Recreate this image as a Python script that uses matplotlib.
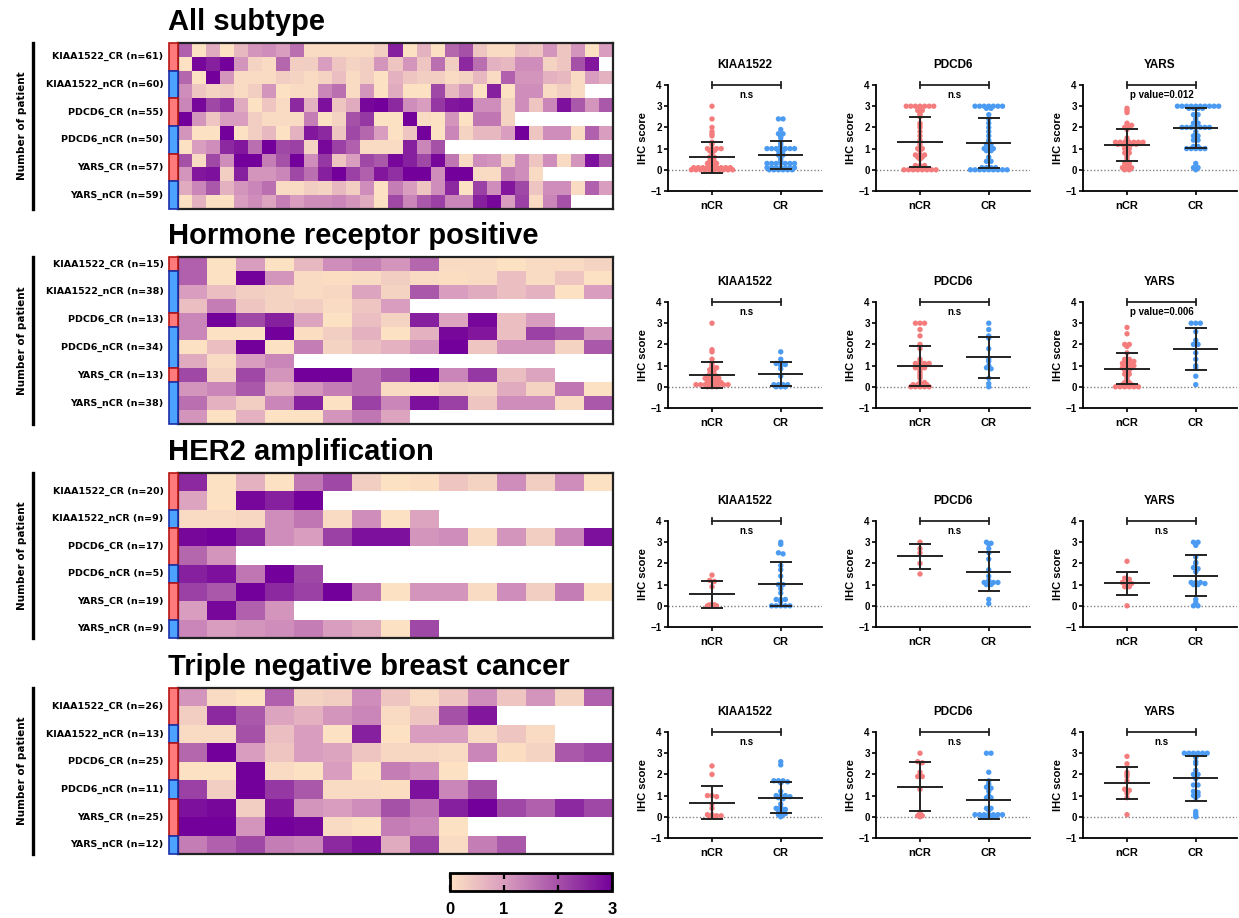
import numpy as np
import matplotlib
matplotlib.use('Agg')
import matplotlib.pyplot as plt
from matplotlib.colors import LinearSegmentedColormap
from matplotlib.patches import Rectangle
from matplotlib.lines import Line2D
import matplotlib.cm as cm
from matplotlib.colors import Normalize

plt.rcParams['font.family'] = ['Liberation Sans', 'DejaVu Sans']
plt.rcParams['font.weight'] = 'bold'

W, H = 1239, 918

# ---- heatmap data (IHC score per patient) ----
all_kiaa_cr = [1.8, 0, 0.8, 0, 0.6, 1.1, 1.2, 1.0, 1.6, 0.1, 0.1, 0.1, 0.1, 0.1, 0.3, 2.6, 0, 0.7, 0, 1.7, 2.0, 0.4, 0.1, 0.1, 0.5, 0.4, 1.1, 0.4, 1.1, 0, 1.0,
               0, 2.9, 2.6, 3.0, 1.1, 0.2, 0.1, 1.7, 0.3, 0.3, 1.0, 0.4, 0.2, 0.3, 1.1, 0.4, 1.1, 0.4, 1.6, 0.3, 2.5, 1.6, 0.7, 0.6, 1.2, 1.2, 0.2, 0.4, 2.0, 2.7]
all_kiaa_ncr = [1.7, 0, 3.0, 1.1, 0.1, 0.1, 0.1, 0.3, 0.2, 0.1, 0.2, 0.5, 0.1, 0.3, 0, 0.7, 0.4, 0.3, 0.3, 0.1, 0.2, 0.6, 0.1, 1.8, 1.1, 1.1, 0.7, 0.6, 0.1, 1.0, 0.7,
                1.2, 0.4, 0.2, 0.3, 0.1, 0.3, 1.1, 0, 0.1, 0.1, 1.3, 1.6, 0.1, 1.1, 0, 0.8, 0, 0, 2.1, 0.6, 1.1, 0, 2.6, 0, 1.2, 1.2, 0.1, 0.3, 0.1]
all_pdcd6_cr = [1.3, 2.9, 2.1, 2.4, 0.8, 0, 0.4, 0.1, 2.5, 0.7, 2.8, 0.4, 0.8, 2.9, 3.0, 2.5, 1.2, 1.0, 2.3, 2.7, 2.8, 1.2, 1.2, 0.2, 1.2, 0.4, 1.3, 2.8, 1.9, 1.1, 1.9,
                3.0, 1.1, 0.4, 1.0, 1.0, 0.3, 0.1, 0.1, 0.1, 1.4, 0, 0.2, 2.0, 2.3, 0, 0, 3.0, 0.1, 0, 1.1, 0, 1.5, 1.5, 0.2]
all_pdcd6_ncr = [1.1, 0, 0, 3.0, 0, 0.3, 0.6, 0, 0.7, 2.7, 2.5, 0.4, 2.1, 1.7, 1.0, 0, 0.4, 3.0, 0, 1.3, 0.2, 0.6, 0.6, 1.0, 3.0, 0.4, 1.2, 1.2, 0.1, 1.8, 1.0,
                 0, 1.0, 1.2, 2.5, 2.7, 1.6, 3.0, 2.1, 2.2, 0.2, 2.9, 2.2, 1.8, 0.1, 0.1, 0.1, 2.6, 1.3, 2.0]
all_yars_cr = [2.0, 0.1, 2.1, 1.2, 3.0, 3.0, 1.4, 2.0, 3.0, 1.2, 2.3, 0.4, 1.0, 2.1, 1.9, 2.9, 2.6, 2.1, 2.9, 1.5, 0.1, 1.2, 1.1, 0.2, 1.2, 0.4, 1.2, 0.1, 1.1, 2.8, 1.9,
               1.1, 2.7, 2.8, 0.3, 2.6, 1.1, 1.1, 1.3, 2.1, 1.6, 2.6, 3.0, 2.2, 1.8, 2.7, 2.4, 3.0, 3.0, 1.2, 3.0, 3.0, 0.1, 0.1, 1.4, 1.2, 0.1]
all_yars_ncr = [0.8, 1.3, 1.9, 0.7, 1.1, 1.3, 1.6, 0.1, 0.1, 0.3, 0.2, 0.6, 0.3, 1.2, 0, 1.4, 1.0, 0.4, 1.2, 2.5, 0, 2.2, 1.2, 2.7, 2.1, 0.4, 1.2, 1.2, 0.1, 1.8, 1.0,
                0, 0.7, 0, 0, 1.0, 1.2, 0.9, 1.4, 1.0, 1.2, 1.2, 1.3, 1.1, 0.8, 0, 2.1, 1.3, 1.9, 2.2, 1.3, 1.3, 2.6, 2.9, 1.0, 2.2, 0.1, 1.3, 2.0]

hr_kiaa_cr = [1.8, 0, 1.0, 0, 0.6, 1.2, 1.4, 1.1, 1.7, 0.1, 0.1, 0, 0.1, 0.1, 0.2]
hr_kiaa_ncr = [1.8, 0, 3.0, 1.1, 0.1, 0.05, 0.1, 0.3, 0.1, 0.05, 0.1, 0.5, 0.1, 0.4, 0,
               1.0, 0.5, 0.3, 0.2, 0.1, 0.15, 0.9, 0.2, 1.9, 1.0, 0.8, 0.5, 0.7, 0, 1.0,
               0.5, 1.4, 0.4, 0.2, 0.3, 0.1, 0.4, 1.0]
hr_pdcd6_cr = [1.3, 3.0, 2.1, 2.6, 0.9, 0, 0.5, 0.2, 2.6, 0.9, 2.9, 0.5, 1.0]
hr_pdcd6_ncr = [1.3, 0, 0, 3.0, 0.05, 0.3, 0.7, 0, 0.7, 2.9, 2.7, 0.5, 2.2, 1.9, 1.1,
                0, 0.5, 3.0, 0, 1.4, 0.2, 0.5, 0.7, 1.1, 3.0, 0.4, 1.1, 1.1, 0.2, 1.9,
                0.8, 0.1, 1.0, 1.3]
hr_yars_cr = [2.1, 0.2, 2.1, 1.1, 3.0, 3.0, 1.6, 2.0, 3.0, 1.3, 2.3, 0.5, 0.9]
hr_yars_ncr = [1.1, 1.3, 1.9, 0.7, 1.1, 1.4, 1.6, 0.1, 0.1, 0.3, 0.2, 0.8, 0.2, 1.5, 0,
               1.6, 0.7, 0.3, 1.3, 2.6, 0, 2.2, 1.3, 2.8, 2.2, 0.4, 1.2, 1.2, 0.1, 1.9,
               1.1, 0, 0.7, 0, 0, 1.1, 1.5, 0.9]

her_kiaa_cr = [2.5, 0, 0.7, 0, 1.5, 2.1, 0.3, 0, 0.05, 0.4, 0.2, 1.2, 0.3, 1.2, 0,
               0.9, 0, 2.9, 2.6, 3.0]
her_kiaa_ncr = [0.1, 0.1, 0.15, 1.2, 1.5, 0.1, 1.2, 0, 0.9]
her_pdcd6_cr = [2.9, 3.0, 2.5, 1.2, 1.0, 2.2, 2.8, 2.8, 1.1, 1.2, 0.1, 1.1, 0.3, 1.3, 2.8,
                1.7, 1.1]
her_pdcd6_ncr = [2.6, 2.8, 1.5, 3.0, 2.1]
her_yars_cr = [2.2, 1.9, 3.0, 2.5, 2.2, 3.0, 1.5, 0, 1.1, 1.1, 0.1, 1.2, 0.3, 1.4, 0,
               1.0, 2.9, 1.8, 1.1]
her_yars_ncr = [1.3, 1.0, 1.1, 1.2, 1.4, 1.0, 0.8, 0, 2.1]

tn_kiaa_cr = [1.1, 0.1, 0, 1.8, 0.2, 0.3, 1.2, 0.4, 0.1, 0.4, 1.2, 0.4, 1.1, 0.2, 1.8,
              0.3, 2.5, 1.9, 0.9, 0.7, 1.1, 1.3, 0.1, 0.4, 2.0, 2.7]
tn_kiaa_ncr = [0.1, 0.1, 2.0, 0.5, 1.0, 0, 2.6, 0, 1.0, 1.0, 0.1, 0.4, 0.1]
tn_pdcd6_cr = [1.7, 3.0, 1.0, 0.4, 1.0, 0.9, 0.4, 0.15, 0.15, 0.1, 1.3, 0.05, 0.2, 1.9, 2.1,
               0, 0, 3.0, 0.1, 0, 1.0, 0, 1.4, 1.2, 0]
tn_pdcd6_ncr = [2.2, 0.3, 3.0, 2.3, 1.9, 0.1, 0.1, 0.05, 2.8, 1.3, 2.0]
tn_yars_cr = [2.8, 2.9, 0.3, 2.7, 1.1, 1.0, 1.2, 2.0, 1.5, 2.6, 3.0, 2.1, 1.8, 2.5, 2.1,
              3.0, 3.0, 1.1, 3.0, 2.9, 0.1, 0, 1.4, 1.3, 0]
tn_yars_ncr = [1.4, 1.8, 2.1, 1.4, 1.3, 2.5, 2.8, 0.8, 2.2, 0.1, 1.4, 1.9]

# ---- dot plot data (IHC score, nCR / CR) ----
sc_all_kiaa_ncr = [3.0, 2.4, 2.0, 1.8, 1.7, 1.6, 1.3, 1.2, 1.0, 1.0, 1.0, 1.0, 0.9, 0.9, 0.8, 0.6, 0.6, 0.5, 0.4, 0.4, 0.3, 0.3, 0.3,
                   0.2, 0.2, 0.1, 0.1, 0.1, 0.1, 0.1, 0.1, 0.1, 0.1, 0.1, 0.0, 0.0, 0.0, 0.0, 0.0, 0.0, 0.0, 0.0, 0.0, 0.0]
sc_all_kiaa_cr = [2.4, 2.4, 1.9, 1.7, 1.7, 1.6, 1.5, 1.3, 1.2, 1.1, 1.0, 1.0, 1.0, 1.0, 1.0, 1.0, 1.0, 0.9, 0.9, 0.7, 0.7, 0.6, 0.5,
                  0.4, 0.3, 0.3, 0.3, 0.3, 0.3, 0.3, 0.3, 0.1, 0.1, 0.1, 0.1, 0.1, 0.1, 0.1, 0.0, 0.0, 0.0, 0.0, 0.0, 0.0]
sc_all_pdcd6_ncr = [3.0, 3.0, 3.0, 3.0, 3.0, 3.0, 3.0, 2.8, 2.8, 2.7, 2.6, 2.5, 2.2, 2.1, 2.0, 1.8, 1.6, 1.4, 1.2, 1.0, 1.0, 0.9,
                    0.7, 0.7, 0.7, 0.6, 0.6, 0.5, 0.2, 0.2, 0.2, 0.1, 0.1, 0.0, 0.0, 0.0, 0.0, 0.0, 0.0, 0.0, 0.0]
sc_all_pdcd6_cr = [3.0, 3.0, 3.0, 3.0, 3.0, 3.0, 3.0, 2.9, 2.9, 2.6, 2.4, 2.2, 2.0, 1.8, 1.6, 1.4, 1.3, 1.2, 1.2, 1.0, 1.0, 1.0,
                   0.9, 0.9, 0.6, 0.4, 0.4, 0.1, 0.1, 0.1, 0.1, 0.0, 0.0, 0.0, 0.0, 0.0, 0.0, 0.0, 0.0, 0.0]
sc_all_yars_ncr = [2.9, 2.8, 2.7, 2.2, 2.1, 2.1, 2.0, 2.0, 1.9, 1.5, 1.4, 1.3, 1.3, 1.3, 1.3, 1.3, 1.3, 1.3, 1.2, 1.2, 1.2, 1.2, 1.2,
                   1.1, 1.0, 1.0, 0.9, 0.8, 0.8, 0.7, 0.6, 0.5, 0.3, 0.3, 0.2, 0.1, 0.1, 0.1, 0.0, 0.0]
sc_all_yars_cr = [3.0, 3.0, 3.0, 3.0, 3.0, 3.0, 3.0, 3.0, 3.0, 3.0, 2.9, 2.9, 2.9, 2.9, 2.6, 2.6, 2.4, 2.2, 2.2,
                  2.0, 2.0, 2.0, 2.0, 2.0, 2.0, 2.0, 1.8, 1.6, 1.6, 1.4, 1.4, 1.1, 1.1, 1.0, 1.0, 1.0, 1.0, 1.0, 0.3, 0.1, 0.1, 0.0]

sc_hr_kiaa_ncr = [3.0, 1.75, 1.65, 1.3, 1.1, 1.0, 0.9, 0.9, 0.8, 0.8, 0.7, 0.6, 0.6, 0.5, 0.5, 0.5, 0.4, 0.4, 0.4, 0.4,
                  0.3, 0.3, 0.3, 0.2, 0.2, 0.2, 0.2, 0.1, 0.1, 0.1, 0.1, 0.1, 0.1, 0.1, 0.1, 0.0, 0.0, 0.0]
sc_hr_kiaa_cr = [1.65, 1.3, 1.1, 1.1, 1.05, 1.0, 0.85, 0.5, 0.1, 0.1, 0.1, 0.1, 0.0, 0.0, 0.0]
sc_hr_pdcd6_ncr = [3.0, 3.0, 3.0, 2.7, 2.4, 2.0, 1.8, 1.3, 1.2, 1.1, 1.1, 1.1, 1.1, 1.0, 1.0, 0.9, 0.9, 0.9, 0.8,
                   0.7, 0.6, 0.5, 0.4, 0.2, 0.2, 0.1, 0.1, 0.1, 0.1, 0.0, 0.0, 0.0, 0.0, 0.0]
sc_hr_pdcd6_cr = [3.0, 2.7, 2.4, 2.3, 1.8, 1.3, 1.2, 1.0, 0.9, 0.85, 0.4, 0.15, 0.0]
sc_hr_yars_ncr = [2.8, 2.5, 2.0, 2.0, 1.9, 1.6, 1.3, 1.3, 1.2, 1.2, 1.2, 1.1, 1.1, 1.1, 1.0, 1.0, 1.0, 0.9, 0.9,
                  0.9, 0.8, 0.8, 0.6, 0.6, 0.5, 0.4, 0.3, 0.2, 0.2, 0.1, 0.1, 0.1, 0.0, 0.0, 0.0, 0.0, 0.0, 0.0]
sc_hr_yars_cr = [3.0, 3.0, 3.0, 2.6, 2.2, 2.0, 2.0, 1.6, 1.3, 1.0, 0.9, 0.5, 0.1]

sc_her_kiaa_ncr = [1.45, 1.2, 1.15, 0.9, 0.05, 0.05, 0.0, 0.0, 0.0]
sc_her_kiaa_cr = [3.0, 2.9, 2.5, 2.45, 1.9, 1.7, 1.4, 1.0, 1.0, 0.8, 0.6, 0.3, 0.3, 0.3, 0.2, 0.0, 0.0, 0.0, 0.0, 0.0]
sc_her_pdcd6_ncr = [3.0, 2.7, 2.5, 2.0, 1.5]
sc_her_pdcd6_cr = [3.0, 2.95, 2.9, 2.7, 2.5, 2.2, 1.7, 1.4, 1.2, 1.1, 1.1, 1.1, 1.1, 1.0, 1.0, 0.3, 0.1]
sc_her_yars_ncr = [2.1, 1.3, 1.25, 1.1, 1.05, 1.05, 0.9, 0.9, 0.0]
sc_her_yars_cr = [3.0, 3.0, 2.85, 2.3, 2.05, 2.0, 1.8, 1.75, 1.6, 1.1, 1.1, 1.1, 1.05, 1.0, 1.0, 0.3, 0.15, 0.0, 0.0]

sc_tn_kiaa_ncr = [2.4, 2.0, 1.0, 1.0, 0.95, 0.6, 0.4, 0.1, 0.1, 0.05, 0.05, 0.0, 0.0]
sc_tn_kiaa_cr = [2.6, 2.45, 1.7, 1.7, 1.7, 1.65, 1.6, 1.2, 1.0, 1.0, 1.0, 0.95, 0.9, 0.85, 0.6, 0.45, 0.4, 0.4, 0.35,
                 0.3, 0.3, 0.2, 0.15, 0.1, 0.1, 0.0]
sc_tn_pdcd6_ncr = [3.0, 2.6, 2.55, 2.1, 1.9, 1.9, 1.3, 0.2, 0.05, 0.05, 0.0]
sc_tn_pdcd6_cr = [3.0, 3.0, 2.1, 1.7, 1.55, 1.4, 1.35, 1.2, 1.0, 0.9, 0.9, 0.4, 0.4, 0.3, 0.1, 0.1, 0.1, 0.1, 0.1,
                  0.1, 0.1, 0.0, 0.0, 0.0, 0.0]
sc_tn_yars_ncr = [2.85, 2.5, 2.1, 2.0, 1.9, 1.7, 1.3, 1.25, 1.2, 1.1, 0.9, 0.1]
sc_tn_yars_cr = [3.0, 3.0, 3.0, 3.0, 3.0, 3.0, 2.85, 2.8, 2.6, 2.5, 2.2, 2.0, 2.0, 1.8, 1.5, 1.5, 1.2, 1.15, 1.0, 1.0,
                 0.9, 0.25, 0.15, 0.05, 0.0]

genes = ['KIAA1522', 'PDCD6', 'YARS']
groups_x = ['nCR', 'CR']
sig_all = ['n.s', 'n.s', 'p value=0.012']
sig_hr = ['n.s', 'n.s', 'p value=0.006']
sig_her = ['n.s', 'n.s', 'n.s']
sig_tn = ['n.s', 'n.s', 'n.s']

titles = ['All subtype', 'Hormone receptor positive', 'HER2 amplification', 'Triple negative breast cancer']
labels_all = ['KIAA1522_CR (n=61)', 'KIAA1522_nCR (n=60)', 'PDCD6_CR (n=55)', 'PDCD6_nCR (n=50)', 'YARS_CR (n=57)', 'YARS_nCR (n=59)']
labels_hr = ['KIAA1522_CR (n=15)', 'KIAA1522_nCR (n=38)', 'PDCD6_CR (n=13)', 'PDCD6_nCR (n=34)', 'YARS_CR (n=13)', 'YARS_nCR (n=38)']
labels_her = ['KIAA1522_CR (n=20)', 'KIAA1522_nCR (n=9)', 'PDCD6_CR (n=17)', 'PDCD6_nCR (n=5)', 'YARS_CR (n=19)', 'YARS_nCR (n=9)']
labels_tn = ['KIAA1522_CR (n=26)', 'KIAA1522_nCR (n=13)', 'PDCD6_CR (n=25)', 'PDCD6_nCR (n=11)', 'YARS_CR (n=25)', 'YARS_nCR (n=12)']

cmap = LinearSegmentedColormap.from_list('ihc', ['#FDE1C3', '#D99DBF', '#A651A8', '#73009A'])
cmap.set_bad('white')
red_dot, blue_dot = '#F47C7C', '#4C9BF2'


def px_axes(fig, x0, y0, x1, y1):
    return fig.add_axes([x0 / W, 1 - y1 / H, (x1 - x0) / W, (y1 - y0) / H])


def draw_heatmap(fig, top, bottom, title, labels, values, ncols):
    rows, blocks = [], []
    for lab, v in zip(labels, values):
        nr = int(np.ceil(len(v) / ncols))
        blocks.append((len(rows), nr, lab))
        for r in range(nr):
            seg = v[r * ncols:(r + 1) * ncols]
            rows.append(list(seg) + [np.nan] * (ncols - len(seg)))
    grid = np.array(rows, dtype=float)
    ax = px_axes(fig, 178, top, 613, bottom)
    ax.imshow(np.ma.masked_invalid(grid), cmap=cmap, vmin=0, vmax=3, aspect='auto', interpolation='nearest')
    ax.set_xticks([])
    ax.set_yticks([])
    for s in ax.spines.values():
        s.set_linewidth(1.6)
        s.set_color('#222222')
    side = px_axes(fig, 169, top, 178, bottom)
    side.set_xlim(0, 1)
    side.set_ylim(len(rows) - 0.5, -0.5)
    side.axis('off')
    for r0, nr, lab in blocks:
        is_cr = '_CR' in lab
        side.add_patch(Rectangle((0.05, r0 - 0.5), 0.9, nr, facecolor='#FF7B7B' if is_cr else '#4EA2FF',
                                 edgecolor='#B81414' if is_cr else '#1A2EA8', lw=1.2, clip_on=False))
        side.text(-0.6, r0 - 0.5 + nr / 2, lab, ha='right', va='center', fontsize=6.8,
                  family='DejaVu Sans', fontweight='bold')
    fig.add_artist(Line2D([33 / W, 33 / W], [1 - top / H, 1 - bottom / H], color='black', lw=2.4))
    fig.text(22 / W, 1 - (top + bottom) / 2 / H, 'Number of patient', rotation=90, ha='center', va='center',
             fontsize=7.5, family='DejaVu Sans', fontweight='bold')
    fig.text(168 / W, 1 - (top - 21) / H, title, ha='left', va='center', fontsize=21, fontweight='bold')


def row_offsets(vals, step=0.1, d=4.6, xpx=69.0):
    # GraphPad-like layout: points of the same level sit side by side in one centred row,
    # neighbouring rows are staggered by half a dot so they interleave
    v = np.asarray(vals, dtype=float)
    bins = np.floor(v / step + 0.5 + 1e-9).astype(int)
    counts = {b: int(np.sum(bins == b)) for b in np.unique(bins)}
    shifted = {}
    off = np.zeros(len(v))
    for b in sorted(counts):
        k = counts[b]
        idx = np.where(bins == b)[0]
        shift = 0.0
        prev = counts.get(b - 1, 0)
        if k >= 2 and prev >= 2 and (k % 2) == (prev % 2) and not shifted.get(b - 1, False):
            shift = d / 2
            shifted[b] = True
        off[idx] = (np.arange(k) - (k - 1) / 2) * d + shift
    return off / xpx


def draw_dots(fig, x0, top, gene, ncr, cr, sig):
    ax = px_axes(fig, x0, top, x0 + 154, top + 106)
    ax.set_xlim(-0.64, 1.6)
    ax.set_ylim(-1, 4)
    ax.axhline(0, color='#808080', lw=1, ls=(0, (1, 1.5)), zorder=1)
    for g, (vals, col) in enumerate([(ncr, red_dot), (cr, blue_dot)]):
        v = np.asarray(vals)
        ax.scatter(g + row_offsets(v), v, s=15, color=col, edgecolors='none', zorder=2, clip_on=False)
        m, sd = v.mean(), v.std(ddof=1)
        kw = dict(color='#222222', lw=1.4, zorder=3, solid_capstyle='butt')
        ax.plot([g - 0.33, g + 0.33], [m, m], **kw)
        ax.plot([g, g], [m - sd, m + sd], **kw)
        ax.plot([g - 0.16, g + 0.16], [m + sd, m + sd], **kw)
        ax.plot([g - 0.16, g + 0.16], [m - sd, m - sd], **kw)
    bk = dict(color='#222222', lw=1.3, clip_on=False)
    ax.plot([0, 1], [4, 4], **bk)
    ax.plot([0, 0], [3.85, 4.15], **bk)
    ax.plot([1, 1], [3.85, 4.15], **bk)
    ax.text(0.5, 3.55, sig, ha='center', va='center', fontsize=7, fontweight='bold')
    ax.text(0.5, 1.19, gene, transform=ax.transAxes, ha='center', va='center', fontsize=8.5, fontweight='bold')
    for s in ['top', 'right']:
        ax.spines[s].set_visible(False)
    for s in ['left', 'bottom']:
        ax.spines[s].set_linewidth(1.3)
    ax.set_yticks([-1, 0, 1, 2, 3, 4])
    ax.set_xticks([0, 1])
    ax.set_xticklabels(groups_x)
    ax.tick_params(axis='y', length=3, width=1.2, labelsize=7, pad=1.5)
    ax.tick_params(axis='x', length=3, width=1.2, labelsize=8, pad=4)
    for t in ax.get_xticklabels() + ax.get_yticklabels():
        t.set_fontweight('bold')
    ax.set_ylabel('IHC score', fontsize=8, fontweight='bold', labelpad=2)


fig = plt.figure(figsize=(W / 100, H / 100), dpi=100)

heat_pos = [(43, 209, 31), (257, 424, 15), (473, 638, 15), (688, 854, 15)]
heat_labels = [labels_all, labels_hr, labels_her, labels_tn]
heat_vals = [
    [all_kiaa_cr, all_kiaa_ncr, all_pdcd6_cr, all_pdcd6_ncr, all_yars_cr, all_yars_ncr],
    [hr_kiaa_cr, hr_kiaa_ncr, hr_pdcd6_cr, hr_pdcd6_ncr, hr_yars_cr, hr_yars_ncr],
    [her_kiaa_cr, her_kiaa_ncr, her_pdcd6_cr, her_pdcd6_ncr, her_yars_cr, her_yars_ncr],
    [tn_kiaa_cr, tn_kiaa_ncr, tn_pdcd6_cr, tn_pdcd6_ncr, tn_yars_cr, tn_yars_ncr],
]
for (top, bottom, nc), ttl, labs, vals in zip(heat_pos, titles, heat_labels, heat_vals):
    draw_heatmap(fig, top, bottom, ttl, labs, vals, nc)

dot_tops = [85, 302, 521, 732]
dot_cols = [668, 876, 1083]
dot_data = [
    [(sc_all_kiaa_ncr, sc_all_kiaa_cr), (sc_all_pdcd6_ncr, sc_all_pdcd6_cr), (sc_all_yars_ncr, sc_all_yars_cr)],
    [(sc_hr_kiaa_ncr, sc_hr_kiaa_cr), (sc_hr_pdcd6_ncr, sc_hr_pdcd6_cr), (sc_hr_yars_ncr, sc_hr_yars_cr)],
    [(sc_her_kiaa_ncr, sc_her_kiaa_cr), (sc_her_pdcd6_ncr, sc_her_pdcd6_cr), (sc_her_yars_ncr, sc_her_yars_cr)],
    [(sc_tn_kiaa_ncr, sc_tn_kiaa_cr), (sc_tn_pdcd6_ncr, sc_tn_pdcd6_cr), (sc_tn_yars_ncr, sc_tn_yars_cr)],
]
sigs = [sig_all, sig_hr, sig_her, sig_tn]
for top, row, sg in zip(dot_tops, dot_data, sigs):
    for x0, gene, (ncr, cr), s in zip(dot_cols, genes, row, sg):
        draw_dots(fig, x0, top, gene, ncr, cr, s)

# colour bar
cax = px_axes(fig, 450, 873, 612, 891)
cb = fig.colorbar(cm.ScalarMappable(norm=Normalize(0, 3), cmap=cmap), cax=cax, orientation='horizontal')
cb.set_ticks([0, 1, 2, 3])
cb.outline.set_linewidth(2)
cax.tick_params(axis='x', direction='in', length=4, width=1.6, top=True, labelsize=12, pad=8)
for t in cax.get_xticklabels():
    t.set_fontweight('bold')

fig.savefig('out.png', dpi=100)
